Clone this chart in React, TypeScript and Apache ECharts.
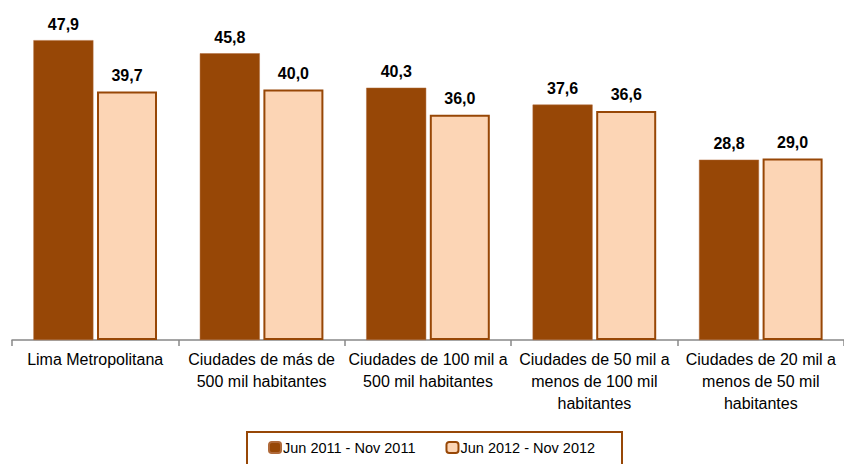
import React, { useEffect, useRef } from "react";
import * as echarts from "echarts";

const categories = [
  "Lima Metropolitana",
  "Ciudades de más de\n500 mil habitantes",
  "Ciudades de 100 mil a\n500 mil habitantes",
  "Ciudades de 50 mil a\nmenos de 100 mil\nhabitantes",
  "Ciudades de 20 mil a\nmenos de 50 mil\nhabitantes",
];
const seriesNames = ["Jun 2011 - Nov 2011", "Jun 2012 - Nov 2012"];
const values2011 = [47.9, 45.8, 40.3, 37.6, 28.8];
const values2012 = [39.7, 40.0, 36.0, 36.6, 29.0];

const FONT = "'Liberation Sans', Arial, sans-serif";
const DARK = "#974706";
const LIGHT = "#FCD5B5";

export default function App() {
  const ref = useRef<HTMLDivElement>(null);
  useEffect(() => {
    if (!ref.current) return;
    const chart = echarts.init(ref.current, null, { renderer: "svg" });
    const fmt = (p: any) => Number(p.value).toFixed(1).replace(".", ",");
    chart.setOption({
      animation: false,
      textStyle: { fontFamily: FONT },
      grid: { left: 12, right: -3, top: 27, bottom: 124, containLabel: false },
      xAxis: {
        type: "category",
        data: categories,
        axisLine: { lineStyle: { color: "#888888", width: 1.5 } },
        axisTick: { show: true, length: 6, lineStyle: { color: "#888888", width: 1.5 } },
        axisLabel: {
          color: "#000000",
          fontSize: 16,
          lineHeight: 22,
          margin: 8,
          fontFamily: FONT,
          interval: 0,
        },
      },
      yAxis: {
        type: "value",
        min: 0,
        max: 50,
        show: false,
        splitLine: { show: false },
      },
      legend: {
        top: 440,
        left: 268,
        padding: 0,
        itemWidth: 12,
        itemHeight: 11,
        itemGap: 30,
        textStyle: { fontSize: 14.5, color: "#000", fontFamily: FONT, padding: [0, 0, 0, -3] },
        data: seriesNames,
      },
      graphic: [
        {
          type: "rect",
          shape: { x: 247, y: 432, width: 375, height: 40 },
          style: { fill: "none", stroke: DARK, lineWidth: 2 },
          silent: true,
        },
      ],
      series: [
        {
          name: seriesNames[0],
          type: "bar",
          data: values2011,
          barWidth: 60,
          barGap: "6%",
          itemStyle: { color: DARK, borderColor: "#B06A3A", borderWidth: 0.5 },
          label: {
            show: true,
            position: "top",
            distance: 8,
            formatter: fmt,
            fontSize: 16,
            fontWeight: "bold",
            color: "#000",
            fontFamily: FONT,
          },
        },
        {
          name: seriesNames[1],
          type: "bar",
          data: values2012,
          barWidth: 60,
          itemStyle: { color: LIGHT, borderColor: DARK, borderWidth: 2 },
          label: {
            show: true,
            position: "top",
            distance: 8,
            formatter: fmt,
            fontSize: 16,
            fontWeight: "bold",
            color: "#000",
            fontFamily: FONT,
          },
        },
      ],
    });
    return () => chart.dispose();
  }, []);
  return (
    <div
      ref={ref}
      style={{ position: "absolute", left: 0, top: 0, width: 844, height: 464 }}
    />
  );
}
